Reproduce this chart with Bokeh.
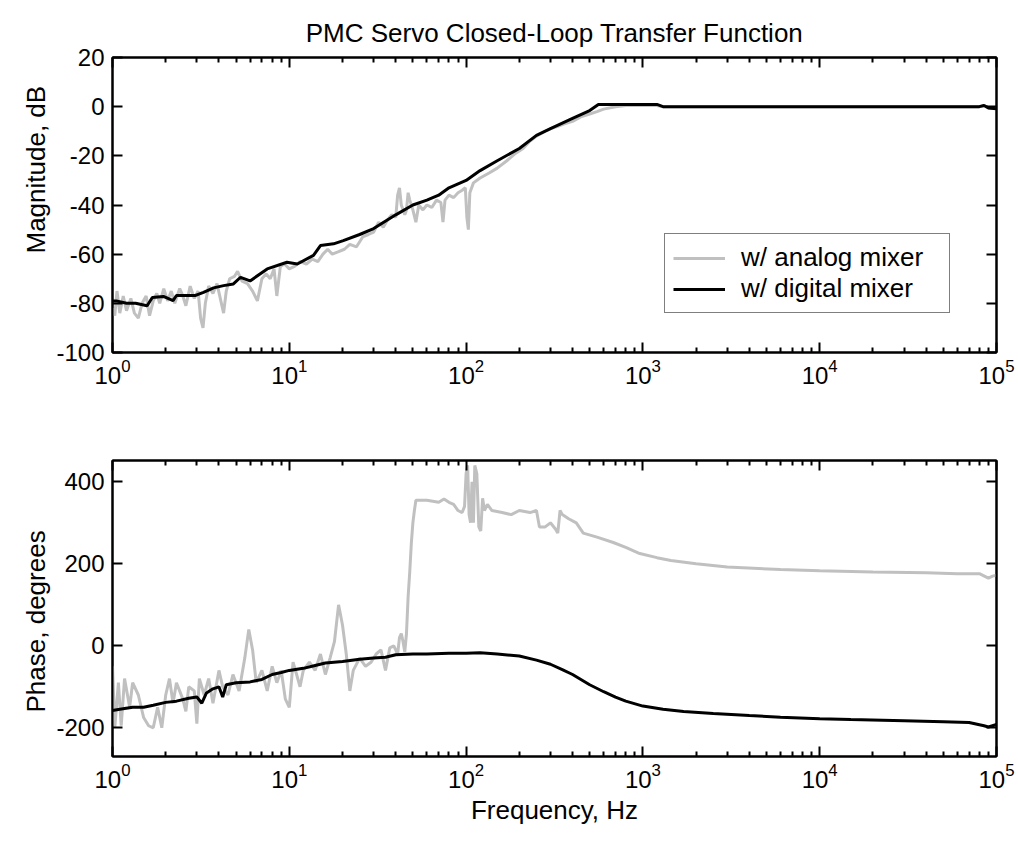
from bokeh.plotting import figure
from bokeh.layouts import column
from bokeh.models import (Range1d, FixedTicker, LogAxis, LinearAxis, Legend, LegendItem, Title)
from bokeh.embed import file_html
from bokeh.resources import INLINE

# ---------------- data ----------------
TITLE = "PMC Servo Closed-Loop Transfer Function"
LEGEND_LABELS = ["w/ analog mixer", "w/ digital mixer"]
MAG_LABEL = "Magnitude, dB"
PH_LABEL = "Phase, degrees"
X_LABEL = "Frequency, Hz"

mag_dig_f = [1, 1.05, 1.2, 1.35, 1.57, 1.68, 1.94, 2.2, 2.3, 2.95, 3.27, 3.73, 4.25, 4.83, 5.3, 6.0,
             7.5, 9.7, 11.1, 13.7, 15, 17.8, 20.2, 25, 30, 40, 50, 60, 70, 80, 100, 120, 150, 200,
             250, 300, 400, 500, 560, 600, 1200, 1300, 80000, 85000, 90000, 100000]
mag_dig_db = [-79, -79, -80, -80, -81, -77.6, -77.2, -78.9, -76.8, -76.8, -75.5, -73.7, -72.8, -72.1,
              -69.4, -70.9, -66, -63.3, -64, -60.5, -56.5, -55.8, -54.5, -52, -49.6, -44, -40, -38,
              -36, -33, -30, -26, -22, -17, -11.7, -8.9, -4.8, -1.6, 0.9, 0.9, 0.9, 0, 0, 0.5, -0.5, -0.8]

mag_ana_f = [1.0, 1.03, 1.06, 1.1, 1.15, 1.2, 1.27, 1.33, 1.4, 1.47, 1.55, 1.62, 1.7, 1.78, 1.85,
             1.95, 2.05, 2.15, 2.25, 2.4, 2.5, 2.6, 2.75, 2.9, 3.05, 3.15, 3.25, 3.35, 3.5, 3.7, 3.9,
             4.1, 4.25, 4.4, 4.6, 4.9, 5.1, 5.4, 5.8, 6.2, 6.6, 7.0, 7.4, 7.8, 8.2, 8.5, 8.9, 9.4,
             10, 10.7, 11.5, 12.5, 13.5, 14.5, 15.5, 16.5, 17.5, 19, 20.5, 22, 24, 26, 28, 30, 32,
             34, 36, 38, 40, 41, 42, 43, 45, 46, 47, 48, 50, 52, 54, 57, 60, 64, 68, 72, 74, 76, 80,
             85, 90, 95, 99, 101, 103, 105, 110, 120, 135, 150, 170, 190, 210, 230, 250, 280, 300,
             330, 360, 400, 450, 500, 550, 600, 700, 800, 1200, 1300, 80000, 85000, 90000, 100000]
mag_ana_db = [-82, -85, -75, -84, -77, -83, -78, -84, -86, -80, -77, -85, -79, -76, -80,
              -74, -79, -75, -80, -74, -77, -81, -73, -78, -75, -86, -90, -80, -73, -76, -72,
              -79, -84, -75, -70, -69, -67, -71, -72, -75, -79, -70, -68, -70, -66, -77, -65, -64,
              -66, -65, -63, -64, -62, -63, -60, -58, -60, -59, -58, -56, -57, -53, -52, -51, -47,
              -49, -46, -44, -45, -36, -33, -40, -44, -42, -35, -38, -42, -47, -40, -42, -40, -41,
              -38, -39, -47, -38, -36, -37, -35, -34, -33, -45, -50, -35, -31, -29, -27, -25, -22,
              -19, -17, -14, -12, -10, -9, -8, -7, -6, -4, -3, -2, -1, 0, 0.5, 0.5, 0, 0, 0.5,
              -0.5, -0.8]

ph_dig_f = [1, 1.1, 1.3, 1.5, 1.7, 2, 2.3, 2.7, 3.0, 3.2, 3.4, 3.7, 4.0, 4.2, 4.4, 5, 6, 7, 8, 9,
            10, 12, 14, 16, 20, 25, 30, 35, 40, 50, 60, 80, 100, 120, 150, 200, 250, 300, 350, 400,
            500, 600, 700, 800, 1000, 1300, 1700, 2500, 4000, 6000, 10000, 15000, 30000, 50000,
            70000, 85000, 90000, 100000]
ph_dig_deg = [-158, -155, -150, -150, -145, -138, -135, -128, -125, -140, -115, -105, -100, -125,
              -95, -90, -88, -82, -70, -65, -60, -55, -48, -42, -38, -33, -30, -28, -22, -20, -20,
              -18, -18, -17, -20, -25, -35, -45, -58, -70, -95, -112, -125, -135, -147, -155, -160,
              -165, -170, -174, -178, -180, -183, -185, -187, -195, -198, -192]

ph_ana_f = [1.0, 1.03, 1.08, 1.12, 1.17, 1.25, 1.3, 1.4, 1.5, 1.6, 1.7, 1.8, 1.9, 2.0, 2.1, 2.2,
            2.3, 2.5, 2.6, 2.7, 2.9, 3.0, 3.1, 3.3, 3.5, 3.7, 4.0, 4.2, 4.5, 4.8, 5.2, 5.6, 5.9,
            6.2, 6.5, 7.0, 7.5, 8.0, 8.5, 9.0, 9.5, 10, 10.5, 11, 11.5, 12, 13, 14, 15, 16, 17,
            18, 19, 20, 21, 22, 23, 25, 27, 29, 31, 33, 35, 37, 39, 41, 42, 43, 44, 45, 46, 47,
            48, 49, 50, 51, 52, 60, 70, 75, 80, 85, 90, 95, 98, 100, 102, 104, 106, 108, 110, 112,
            115, 118, 121, 124, 127, 132, 140, 160, 180, 200, 230, 250, 260, 280, 300, 320, 330,
            340, 350, 380, 420, 460, 550, 680, 800, 960, 1200, 1440, 2000, 3000, 6000, 10000,
            20000, 40000, 60000, 80000, 90000, 95000, 100000]
ph_ana_deg = [-50, -200, -90, -195, -80, -150, -90, -120, -175, -195, -200, -150, -200, -120, -80,
              -140, -90, -130, -160, -100, -110, -190, -80, -120, -80, -140, -60, -100, -120, -70,
              -110, -30, 40, -10, -90, -60, -110, -50, -90, -60, -130, -150, -40, -70, -100, -60,
              -40, -60, -20, -70, -30, 10, 100, 50, -20, -110, -60, -30, -50, -40, -20, -10, -60,
              -5, 0, -20, 20, 30, 10, -15, 30, 120, 180, 250, 300, 330, 355, 355, 350, 358, 350,
              345, 330, 325, 340, 420, 440, 320, 300, 400, 300, 440, 420, 290, 280, 360, 330, 345,
              330, 325, 320, 330, 325, 330, 290, 290, 300, 285, 275, 330, 320, 310, 300, 275, 265,
              252, 240, 225, 215, 208, 200, 192, 186, 183, 180, 178, 176, 176, 165, 170, 172]

X_TICKS = [1, 10, 100, 1000, 10000, 100000]
X_MINOR = [m * d for d in [1, 10, 100, 1000, 10000] for m in range(2, 10)]
MAG_TICKS = [-100, -80, -60, -40, -20, 0, 20]
PH_TICKS = [-200, 0, 200, 400]

GRAY = "#c0c0c0"
FONT = "Liberation Sans"
TICK_FS = "24px"
LAB_FS = "26px"


def style(p, yticks, ylabel, ylabel_offset):
    p.outline_line_color = "black"
    p.outline_line_width = 2
    p.xgrid.visible = False
    p.ygrid.visible = False
    p.background_fill_color = "white"
    p.border_fill_color = "white"
    xa = p.below[0]
    ya = p.left[0]
    xa.ticker = FixedTicker(ticks=X_TICKS, minor_ticks=X_MINOR)
    ya.ticker = FixedTicker(ticks=yticks)
    ya.major_label_overrides = {v: str(v) for v in yticks}
    for ax in (xa, ya):
        ax.major_tick_in = 10
        ax.major_tick_out = 0
        ax.minor_tick_in = 5
        ax.minor_tick_out = 0
        ax.axis_line_color = "black"
        ax.axis_line_width = 2
        ax.major_tick_line_color = "black"
        ax.major_tick_line_width = 2
        ax.minor_tick_line_color = "black"
        ax.minor_tick_line_width = 2
        ax.major_label_text_font = FONT
        ax.major_label_text_font_size = TICK_FS
        ax.major_label_text_color = "black"
        ax.axis_label_text_font = FONT
        ax.axis_label_text_font_size = LAB_FS
        ax.axis_label_text_font_style = "normal"
        ax.axis_label_text_color = "black"
    ya.minor_tick_line_color = None
    ya.major_label_standoff = 8
    xa.major_label_standoff = 6
    # y label as a side title so that it can sit off-centre like the original
    p.add_layout(Title(text=ylabel, align="left", offset=ylabel_offset, text_font=FONT,
                       text_font_size=LAB_FS, text_font_style="normal", text_color="black",
                       standoff=6), "left")
    # mirrored ticks on top and right
    top = LogAxis(ticker=FixedTicker(ticks=X_TICKS, minor_ticks=X_MINOR),
                  major_tick_in=10, major_tick_out=0, minor_tick_in=5, minor_tick_out=0,
                  major_tick_line_width=2, minor_tick_line_width=2, axis_line_width=2,
                  major_label_text_font_size="0px", major_label_text_color=None,
                  major_label_standoff=0)
    right = LinearAxis(ticker=FixedTicker(ticks=yticks), major_tick_in=10, major_tick_out=0,
                       major_tick_line_width=2, axis_line_width=2,
                       minor_tick_line_color=None, major_label_text_font_size="0px",
                       major_label_text_color=None, major_label_standoff=0)
    p.add_layout(top, "above")
    p.add_layout(right, "right")
    return xa, ya


p1 = figure(width=1018, height=420, x_axis_type="log", x_range=Range1d(1, 1e5),
            y_range=Range1d(-100, 20), output_backend="svg", toolbar_location=None,
            min_border_left=112, min_border_right=22, min_border_top=57, min_border_bottom=68)
p1.title.text = TITLE
p1.title.align = "center"
p1.title.text_font = FONT
p1.title.text_font_size = LAB_FS
p1.title.text_font_style = "normal"
p1.title.text_color = "black"
p1.title.standoff = 19
style(p1, MAG_TICKS, MAG_LABEL, 99)

r_ana = p1.line(mag_ana_f, mag_ana_db, line_color=GRAY, line_width=3)
r_dig = p1.line(mag_dig_f, mag_dig_db, line_color="black", line_width=3)

legend = Legend(items=[LegendItem(label=LEGEND_LABELS[0], renderers=[r_ana]),
                       LegendItem(label=LEGEND_LABELS[1], renderers=[r_dig])],
                location=(552, 39), border_line_color="black", border_line_width=1,
                background_fill_color="white", background_fill_alpha=1,
                label_text_font=FONT, label_text_font_size=LAB_FS, label_text_color="black",
                glyph_width=52, glyph_height=30, label_height=30, label_width=200,
                label_standoff=16, padding=8, spacing=0, margin=0)
p1.add_layout(legend, "center")

p2 = figure(width=1018, height=424, x_axis_type="log", x_range=Range1d(1, 1e5),
            y_range=Range1d(-270, 452), output_backend="svg", toolbar_location=None,
            min_border_left=112, min_border_right=22, min_border_top=40, min_border_bottom=88)
xa2, ya2 = style(p2, PH_TICKS, PH_LABEL, 44)
xa2.axis_label = X_LABEL
xa2.axis_label_standoff = 4
p2.line(ph_ana_f, ph_ana_deg, line_color=GRAY, line_width=3)
p2.line(ph_dig_f, ph_dig_deg, line_color="black", line_width=3)

layout = column(p1, p2, spacing=0)
open("out.html", "w").write(file_html(layout, INLINE))
